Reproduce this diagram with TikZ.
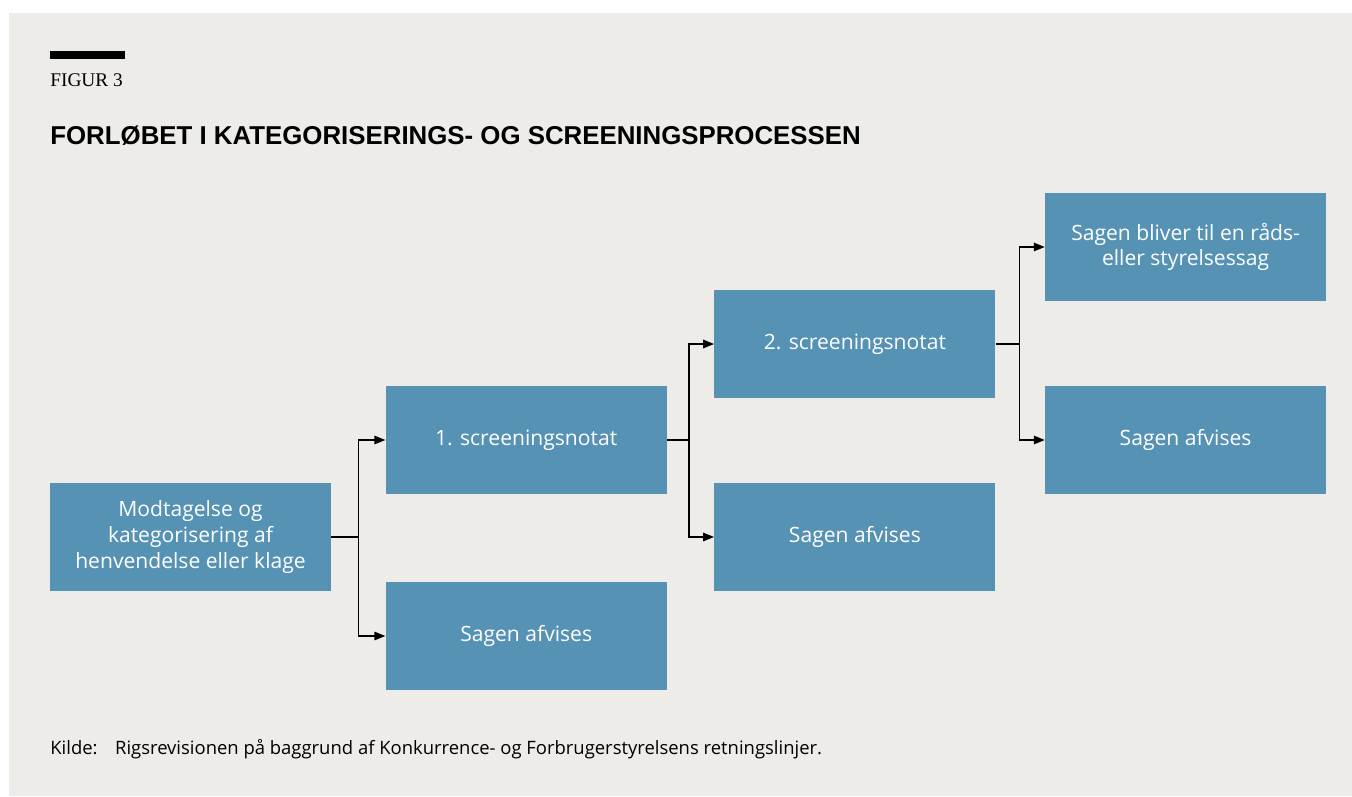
\documentclass[tikz,border=0pt]{standalone}
\usepackage{fontspec}
\setmainfont{Open Sans}
\newfontfamily\titlefont{Liberation Sans}
\newfontfamily\figfont{Liberation Serif}
\usepackage{xcolor}
\usepackage{tikz}
\usetikzlibrary{positioning, arrows.meta}
\definecolor{bgpaper}{HTML}{EEECE8}
\definecolor{boxblue}{HTML}{5592B4}
\tikzset{->,
         >={Triangle[length=2.2mm, width=1.7mm]},
         every box/.style={fill=boxblue, text=white, minimum width=5.62cm,
                           minimum height=2.16cm, align=center, inner sep=0pt,
                           font=\fontsize{12}{14.6}\selectfont},
         fork/.style={thick, black},
         }

\begin{document}
\begin{tikzpicture}
    \useasboundingbox (0,0) rectangle (27.04,15.92);
    \fill[bgpaper] (0.18,0) rectangle (27.04,15.66);
    \fill[black] (1.0,14.9) rectangle (2.5,14.74);
    \node[anchor=west, inner sep=0pt, font=\figfont\fontsize{11}{13}\selectfont] (figur) at (1.0,14.32) {FIGUR 3};
    \node[anchor=west, inner sep=0pt, font=\titlefont\bfseries\fontsize{14.7}{17}\selectfont] (titel) at (1.0,13.2) {FORLØBET I KATEGORISERINGS- OG SCREENINGSPROCESSEN};

    \node[every box] (modtag) at (3.81,5.18) {Modtagelse og\\kategorisering af\\henvendelse eller klage};
    \node[every box, right=1.08cm of modtag, yshift=1.94cm] (screen1) {1. screeningsnotat};
    \node[every box, right=1.08cm of modtag, yshift=-1.98cm] (afvis1) {Sagen afvises};
    \node[every box, right=0.94cm of screen1, yshift=1.92cm] (screen2) {2. screeningsnotat};
    \node[every box, right=0.94cm of screen1, yshift=-1.94cm] (afvis2) {Sagen afvises};
    \node[every box, right=0.98cm of screen2, yshift=1.94cm] (raad) {Sagen bliver til en råds-\\eller styrelsessag};
    \node[every box, right=0.98cm of screen2, yshift=-1.92cm] (afvis3) {Sagen afvises};

    \draw[fork] (modtag.east) -- ++(0.54,0) |- (screen1.west);
    \draw[fork] (modtag.east) -- ++(0.54,0) |- (afvis1.west);
    \draw[fork] (screen1.east) -- ++(0.44,0) |- (screen2.west);
    \draw[fork] (screen1.east) -- ++(0.44,0) |- (afvis2.west);
    \draw[fork] (screen2.east) -- ++(0.48,0) |- (raad.west);
    \draw[fork] (screen2.east) -- ++(0.48,0) |- (afvis3.west);

    \node[anchor=west, inner sep=0pt, font=\fontsize{10.5}{12}\selectfont] (kilde) at (1.0,0.93) {Kilde:\hspace{0.95em}Rigsrevisionen på baggrund af Konkurrence- og Forbrugerstyrelsens retningslinjer.};
\end{tikzpicture}
\end{document}
